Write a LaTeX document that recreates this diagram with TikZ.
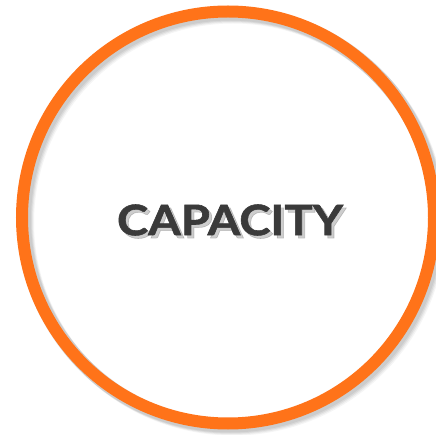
\documentclass[tikz,border=0pt]{standalone}
\usepackage{fontspec}
\setmainfont{Lato}
\newfontfamily\capfont[FakeBold=1.3]{Lato}
\usepackage{xcolor}
\usetikzlibrary{calc}
\definecolor{ringorange}{RGB}{255,115,25}
\definecolor{textgray}{RGB}{58,58,58}
\definecolor{shadowgray}{RGB}{90,90,90}
\newcommand{\capword}{\scalebox{1.12}[1]{CAPACITY}}

\begin{document}
\begin{tikzpicture}[x=1pt, y=-1pt,
    captext/.style={font=\fontsize{42}{42}\capfont\bfseries, inner sep=0pt}]
    % Canvas
    \useasboundingbox (0,0) rectangle (436,435);
    \fill[white] (0,0) rectangle (436,435);

    % Ring shadow
    \foreach \d/\o in {5/0.06, 4/0.08, 3/0.10, 2/0.10} {
        \draw[shadowgray, opacity=\o, line width=14pt] (228+\d,217.5+\d) circle (206);
    }

    % Ring
    \draw[ringorange, line width=12pt] (228,217.5) circle (206);

    % Label shadow
    \node[captext, text=shadowgray, opacity=0.3] (shadow) at (233,223) {\capword};

    % Label
    \node[captext, text=textgray] (label) at (230,220) {\capword};
\end{tikzpicture}
\end{document}
